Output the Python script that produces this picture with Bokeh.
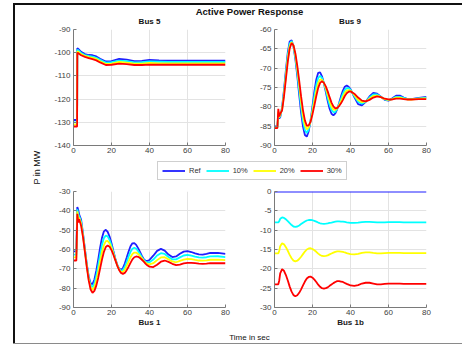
from bokeh.plotting import figure
from bokeh.layouts import row, column
from bokeh.models import Range1d, FixedTicker, Legend, LegendItem, Label, Spacer
from bokeh.embed import file_html
from bokeh.resources import INLINE
import math

FONT = "Liberation Sans"
SERIES = ["Ref", "10%", "20%", "30%"]
COLORS = ["#1f1fff", "#00ffff", "#ffff00", "#ff0000"]
X_TICKS = [0, 20, 40, 60, 80]

# ---------------- Bus 5 ----------------
t_bus5 = [0, 1.9, 2, 2.5, 4, 6, 8, 10, 12, 14, 17, 20, 24, 28, 32, 36, 40, 45, 50, 60, 70, 80]
bus5_ref = [-129, -129, -98.1, -98.3, -99.6, -100.6, -101.0, -101.1, -101.6, -102.6, -103.8, -103.6,
            -102.7, -103.0, -103.6, -103.5, -103.1, -103.3, -103.4, -103.4, -103.4, -103.4]
bus5_10 = [-130, -130, -98.7, -98.9, -100.1, -101.0, -101.4, -101.7, -102.2, -103.1, -104.3, -104.1,
           -103.4, -103.6, -104.2, -104.1, -103.8, -103.9, -104.0, -104.0, -104.0, -104.0]
bus5_20 = [-131, -131, -99.4, -99.6, -100.6, -101.4, -101.9, -102.2, -102.7, -103.7, -104.8, -104.7,
           -104.0, -104.3, -104.7, -104.7, -104.4, -104.6, -104.6, -104.6, -104.6, -104.6]
bus5_30 = [-131.8, -131.8, -100.0, -100.2, -101.1, -101.8, -102.3, -102.8, -103.3, -104.2, -105.3, -105.2,
           -104.7, -104.9, -105.3, -105.3, -105.1, -105.2, -105.2, -105.2, -105.2, -105.2]

# common time base for the oscillating panels
t_osc = [0, 1.5, 2, 2.5, 3,
         4, 5, 6, 7, 8, 9, 10, 11, 12, 13, 14, 15, 16, 17, 18, 19, 20, 21, 22, 23, 24, 25, 26, 27, 28,
         29, 30, 31, 32, 33, 34, 35, 36, 37, 38, 39, 40,
         42, 44, 46, 48, 50, 52, 54, 56, 58, 60, 62, 64, 66, 68, 70, 72, 76, 80]

# ---------------- Bus 9 ----------------
bus9_ref = [-85.0, -85.2, -82.5, -83.0, -82.7,
            -80.1, -75.6, -70.5, -65.9, -63.1, -62.8, -64.4, -67.7, -72.0, -76.9, -81.5, -85.1, -87.3, -87.7,
            -86.3, -83.5, -79.8, -76.0, -72.9, -71.2, -71.1, -72.1, -73.9, -76.1, -78.5, -80.5, -81.8, -82.2,
            -81.7, -80.6, -79.0, -77.3, -75.8, -74.8, -74.5, -74.8, -75.4,
            -77.5, -79.3, -79.6, -78.7, -77.3, -76.4, -76.6, -77.4, -78.2, -78.4, -77.8, -77.1, -77.1, -77.6,
            -78.0, -78.0, -77.7, -77.4]
bus9_10 = [-85.2, -85.3, -81.8, -82.8, -82.4,
           -80.4, -76.2, -71.3, -66.7, -63.7, -63.0, -64.3, -67.2, -71.1, -75.7, -80.1, -83.7, -86.0, -86.8,
           -85.8, -83.6, -80.5, -77.2, -74.3, -72.5, -72.0, -72.5, -73.9, -75.6, -77.7, -79.5, -80.8, -81.4,
           -81.3, -80.5, -79.3, -77.9, -76.6, -75.6, -75.2, -75.2, -75.6,
           -77.2, -78.7, -79.2, -78.7, -77.6, -76.8, -76.8, -77.4, -78.1, -78.3, -77.9, -77.4, -77.4, -77.7,
           -78.0, -78.0, -77.8, -77.6]
bus9_20 = [-85.3, -85.4, -81.2, -82.7, -82.1,
           -80.6, -76.7, -72.0, -67.5, -64.3, -63.3, -64.2, -66.7, -70.3, -74.4, -78.7, -82.3, -84.8, -85.8,
           -85.3, -83.7, -81.2, -78.4, -75.8, -73.8, -72.9, -73.0, -73.8, -75.2, -76.8, -78.5, -79.9, -80.7,
           -80.8, -80.4, -79.5, -78.5, -77.4, -76.4, -75.8, -75.7, -75.8,
           -76.9, -78.2, -78.8, -78.6, -77.9, -77.2, -77.1, -77.5, -78.0, -78.2, -78.0, -77.6, -77.6, -77.9,
           -78.1, -78.1, -77.9, -77.8]
bus9_30 = [-85.5, -85.5, -80.5, -82.5, -81.8,
           -80.9, -77.3, -72.8, -68.3, -64.9, -63.5, -64.1, -66.2, -69.4, -73.2, -77.3, -80.9, -83.5, -84.9,
           -84.8, -83.8, -81.9, -79.6, -77.2, -75.1, -73.8, -73.4, -73.8, -74.7, -76.0, -77.5, -78.9, -79.9,
           -80.4, -80.3, -79.8, -79.1, -78.2, -77.2, -76.5, -76.1, -76.0,
           -76.6, -77.6, -78.4, -78.6, -78.2, -77.6, -77.3, -77.5, -77.9, -78.1, -78.1, -77.9, -77.9, -78.0,
           -78.1, -78.1, -78.0, -78.0]

# ---------------- Bus 1 ----------------
bus1_ref = [-61.0, -61.0, -38.0, -39.5, -42.0,
            -44.5, -51.6, -59.7, -67.6, -73.9, -77.5, -77.9, -75.5, -71.0, -65.2, -59.1, -53.9, -50.6, -49.8,
            -50.9, -53.3, -56.8, -60.8, -64.6, -67.8, -69.9, -70.5, -69.6, -67.3, -64.2, -61.0, -58.3, -56.8,
            -56.7, -57.6, -59.3, -61.3, -63.3, -65.0, -65.9, -65.9, -65.4,
            -63.2, -60.7, -59.7, -60.6, -62.6, -63.9, -63.6, -62.2, -61.1, -60.8, -61.3, -62.0, -62.5, -62.6,
            -62.3, -61.8, -61.7, -62.3]
bus1_10 = [-62.6, -62.6, -39.2, -41.7, -42.8,
           -45.6, -52.3, -60.2, -68.1, -74.6, -78.6, -79.4, -77.5, -73.6, -68.4, -62.7, -57.7, -54.1, -52.8,
           -53.2, -55.1, -58.0, -61.4, -64.9, -68.0, -70.1, -71.0, -70.6, -68.9, -66.4, -63.6, -61.2, -59.6,
           -59.1, -59.6, -60.8, -62.3, -64.0, -65.4, -66.4, -66.7, -66.6,
           -65.2, -63.1, -61.9, -62.3, -63.9, -65.1, -65.1, -64.1, -63.1, -62.8, -63.2, -63.7, -64.1, -64.2,
           -64.0, -63.6, -63.5, -63.9]
bus1_20 = [-64.1, -64.1, -40.3, -43.8, -43.6,
           -46.6, -52.9, -60.7, -68.6, -75.3, -79.6, -80.9, -79.4, -76.1, -71.5, -66.3, -61.4, -57.7, -55.7,
           -55.6, -56.8, -59.1, -62.1, -65.2, -68.1, -70.4, -71.6, -71.6, -70.5, -68.5, -66.3, -64.0, -62.3,
           -61.6, -61.6, -62.3, -63.4, -64.6, -65.9, -66.9, -67.5, -67.7,
           -67.1, -65.5, -64.1, -64.0, -65.1, -66.2, -66.6, -65.9, -65.2, -64.9, -65.0, -65.4, -65.7, -65.8,
           -65.6, -65.3, -65.2, -65.5]
bus1_30 = [-65.7, -65.7, -41.5, -46.0, -44.4,
           -47.7, -53.6, -61.2, -69.1, -76.0, -80.7, -82.4, -81.4, -78.7, -74.7, -69.9, -65.2, -61.2, -58.7,
           -57.9, -58.6, -60.3, -62.7, -65.5, -68.3, -70.6, -72.1, -72.6, -72.1, -70.7, -68.9, -66.9, -65.1,
           -64.0, -63.6, -63.8, -64.4, -65.3, -66.3, -67.4, -68.3, -68.9,
           -69.1, -67.9, -66.3, -65.7, -66.4, -67.4, -68.1, -67.8, -67.2, -66.9, -66.9, -67.1, -67.3, -67.4,
           -67.3, -67.1, -67.0, -67.1]

# ---------------- Bus 1b ----------------
t_flat = [0, 80]
bus1b_ref = [0, 0]
bus1b_10 = [-8.0, -8.0, -8.0, -7.67, -7.07,
            -6.7, -6.83, -7.2, -7.67, -8.2, -8.68, -9.05, -9.15, -9.05, -8.78, -8.43, -8.1, -7.77, -7.5,
            -7.37, -7.33, -7.43, -7.6, -7.8, -8.03, -8.22, -8.33, -8.37, -8.33, -8.27, -8.13, -8.02, -7.9,
            -7.8, -7.73, -7.73, -7.77, -7.8, -7.88, -7.97, -8.03, -8.1,
            -8.13, -8.07, -7.93, -7.87, -7.87, -7.93, -8.0, -8.0, -7.97, -7.93, -7.93, -7.93, -7.93, -7.97,
            -7.97, -7.97, -7.97, -7.97]
bus1b_20 = [-16.0, -16.0, -16.0, -15.33, -14.13,
            -13.4, -13.67, -14.4, -15.33, -16.4, -17.27, -17.87, -18.07, -17.9, -17.47, -16.87, -16.2, -15.53, -15.0,
            -14.73, -14.67, -14.87, -15.2, -15.6, -16.07, -16.43, -16.67, -16.73, -16.67, -16.53, -16.27, -16.03, -15.8,
            -15.6, -15.47, -15.47, -15.53, -15.6, -15.77, -15.93, -16.07, -16.2,
            -16.27, -16.13, -15.87, -15.73, -15.73, -15.87, -16.0, -16.0, -15.93, -15.87, -15.87, -15.87, -15.87, -15.93,
            -15.93, -15.93, -15.93, -15.93]
bus1b_30 = [-24.0, -24.0, -24.0, -23.0, -21.2,
            -20.1, -20.5, -21.6, -23.0, -24.6, -25.9, -26.8, -27.1, -26.85, -26.2, -25.3, -24.3, -23.3, -22.5,
            -22.1, -22.0, -22.3, -22.8, -23.4, -24.1, -24.65, -25.0, -25.1, -25.0, -24.8, -24.4, -24.05, -23.7,
            -23.4, -23.2, -23.2, -23.3, -23.4, -23.65, -23.9, -24.1, -24.3,
            -24.4, -24.2, -23.8, -23.6, -23.6, -23.8, -24.0, -24.0, -23.9, -23.8, -23.8, -23.8, -23.8, -23.9,
            -23.9, -23.9, -23.9, -23.9]

TICKS_BUS5 = [-140, -130, -120, -110, -100, -90]
TICKS_BUS9 = [-90, -85, -80, -75, -70, -65, -60]
TICKS_BUS1 = [-90, -80, -70, -60, -50, -40, -30]
TICKS_BUS1B = [-30, -25, -20, -15, -10, -5, 0]

LINE_W = 1.8


def panel(curves, yr, yticks, width, height, left, right, top, bottom, xlabel=None):
    p = figure(width=width, height=height, x_range=Range1d(0, 80), y_range=Range1d(*yr),
               output_backend="svg", toolbar_location=None,
               min_border_left=left, min_border_right=right,
               min_border_top=top, min_border_bottom=bottom)
    p.outline_line_color = None
    p.background_fill_color = "white"
    p.border_fill_color = "white"
    for (t, ys), c in zip(curves, COLORS):
        p.line(t, ys, line_color=c, line_width=LINE_W)
    p.xaxis.ticker = FixedTicker(ticks=X_TICKS)
    p.yaxis.ticker = FixedTicker(ticks=yticks)
    p.xaxis.major_label_overrides = {v: str(v) for v in X_TICKS}
    p.yaxis.major_label_overrides = {v: str(v) for v in yticks}
    for ax in (p.xaxis[0], p.yaxis[0]):
        ax.axis_line_color = "#7a7a7a"
        ax.major_tick_line_color = "#7a7a7a"
        ax.major_tick_in = 3
        ax.major_tick_out = 0
        ax.minor_tick_line_color = None
        ax.major_label_text_font = FONT
        ax.major_label_text_font_size = "8px"
        ax.major_label_text_color = "#404040"
    p.xaxis.major_label_standoff = 2
    p.yaxis.major_label_standoff = 3
    p.grid.grid_line_color = "#e3e3e3"
    if xlabel:
        p.xaxis.axis_label = xlabel
        p.xaxis.axis_label_text_font = FONT
        p.xaxis.axis_label_text_font_size = "8px"
        p.xaxis.axis_label_text_font_style = "bold"
        p.xaxis.axis_label_text_color = "#1a1a1a"
        p.xaxis.axis_label_standoff = 0
    return p


def blank(width, height):
    p = figure(width=width, height=height, x_range=Range1d(0, 1), y_range=Range1d(0, 1),
               output_backend="svg", toolbar_location=None, min_border=0,
               x_axis_location=None, y_axis_location=None)
    p.grid.visible = False
    p.outline_line_color = None
    p.background_fill_color = "white"
    p.border_fill_color = "white"
    return p


def label(p, x, y, text, size, bold=False, angle=0.0):
    p.add_layout(Label(x=x, y=y, x_units="screen", y_units="screen", text=text,
                       text_align="center", text_baseline="middle", angle=angle,
                       text_font=FONT, text_font_size=size,
                       text_font_style="bold" if bold else "normal", text_color="#111111"))


f5 = panel([(t_bus5, bus5_ref), (t_bus5, bus5_10), (t_bus5, bus5_20), (t_bus5, bus5_30)],
           (-140, -90), TICKS_BUS5, 205, 134, 28, 25, 5, 13)
f9 = panel([(t_osc, bus9_ref), (t_osc, bus9_10), (t_osc, bus9_20), (t_osc, bus9_30)],
           (-90, -60), TICKS_BUS9, 212, 134, 24, 36, 5, 13)
f1 = panel([(t_osc, bus1_ref), (t_osc, bus1_10), (t_osc, bus1_20), (t_osc, bus1_30)],
           (-90, -30), TICKS_BUS1, 205, 145, 28, 25, 5, 24, xlabel="Bus 1")
f1b = panel([(t_flat, bus1b_ref), (t_osc, bus1b_10), (t_osc, bus1b_20), (t_osc, bus1b_30)],
            (-30, 0), TICKS_BUS1B, 212, 145, 24, 36, 5, 24, xlabel="Bus 1b")

# header with main title and top subplot titles
header = blank(447, 19)
label(header, 234, 13, "Active Power Response", "9.5px", bold=True)
label(header, 134, 3.5, "Bus 5", "8px", bold=True)
label(header, 334.5, 3.5, "Bus 9", "8px", bold=True)

# left strip with y label
left = blank(30, 307)
label(left, 21, 164, "P in MW", "9px", angle=math.pi / 2)

# legend strip: the legend's renderers hold the Bus 9 series, but this strip's
# y range lies far away from them, so only their legend swatches are visible
strip = blank(417, 28)
strip.x_range = Range1d(0, 80)
strip.y_range = Range1d(100, 101)
items = []
for name, c, ys in zip(SERIES, COLORS, [bus9_ref, bus9_10, bus9_20, bus9_30]):
    r = strip.line(t_osc, ys, line_color=c, line_width=LINE_W)
    items.append(LegendItem(label=name, renderers=[r]))
legend = Legend(items=items, location=(112, 6), orientation="horizontal",
                glyph_width=23, glyph_height=9, label_height=9, label_width=8,
                label_standoff=4, spacing=5, padding=4, margin=0,
                border_line_color="#a0a0a0", border_line_width=1,
                label_text_font=FONT, label_text_font_size="7.5px", label_text_color="#333333",
                background_fill_color="white", background_fill_alpha=1.0)
strip.add_layout(legend)

# footer with x label
footer = blank(447, 12)
label(footer, 234, 6, "Time in sec", "8px")

plots = column(row(f5, f9), strip, row(f1, f1b))
content = column(header, row(left, plots), footer)

layout = column(
    Spacer(width=462, height=3),
    row(Spacer(width=13, height=2), Spacer(width=449, height=2, styles={"background-color": "#111111"})),
    row(Spacer(width=13, height=338),
        Spacer(width=2, height=338, styles={"background-color": "#111111"}),
        content),
    row(Spacer(width=13, height=1), Spacer(width=449, height=1, styles={"background-color": "#8a8a8a"})),
    Spacer(width=462, height=1),
)

open("out.html", "w").write(file_html(layout, INLINE))
